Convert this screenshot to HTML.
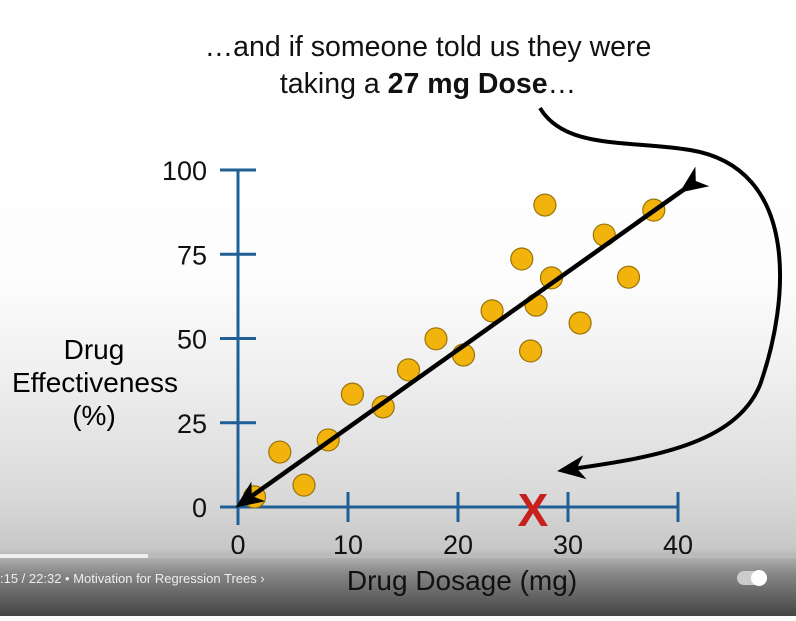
<!DOCTYPE html>
<html><head><meta charset="utf-8"><style>
html,body{margin:0;padding:0;}
body{width:796px;height:616px;overflow:hidden;font-family:"Liberation Sans",sans-serif;}
</style></head><body>
<svg width="796" height="616" viewBox="0 0 796 616" id="chart">
<defs>
<linearGradient id="bg" x1="0" y1="0" x2="0" y2="1">
<stop offset="0" stop-color="#ffffff"/><stop offset="0.45" stop-color="#fdfdfd"/>
<stop offset="0.6" stop-color="#f0f0f0"/><stop offset="0.8" stop-color="#dadada"/><stop offset="0.89" stop-color="#c8c8c8"/>
<stop offset="0.93" stop-color="#888"/><stop offset="1" stop-color="#444"/>
</linearGradient>
<marker id="ah2" markerWidth="30" markerHeight="30" refX="20" refY="15" orient="auto" markerUnits="userSpaceOnUse" viewBox="0 0 30 30"><path d="M0,3 L28,15 L0,27 L8,15 z" fill="#000"/></marker>
</defs>
<rect width="796" height="616" fill="url(#bg)"/>
<text x="428" y="56" font-size="28.5" text-anchor="middle" fill="#111">…and if someone told us they were</text>
<text x="428" y="93" font-size="28.5" text-anchor="middle" fill="#111">taking a <tspan font-weight="bold">27 mg Dose</tspan>…</text>
<path d="M540,108 C565,150 630,140 690,150 C800,168 790,300 760,385 C735,445 650,458 565,470" fill="none" stroke="#000" stroke-width="4" marker-end="url(#ah2)"/>
<g id="axes" stroke="#1f5f96" stroke-width="3" fill="none"></g>
<g id="ticklabels" font-size="27" fill="#111"></g>
<text x="94" y="359" font-size="28" text-anchor="middle">Drug</text>
<text x="95" y="392" font-size="28" text-anchor="middle">Effectiveness</text>
<text x="94" y="425" font-size="28" text-anchor="middle">(%)</text>
<text x="462" y="590" font-size="28" text-anchor="middle" fill="#111">Drug Dosage (mg)</text>
<g id="points"></g>
<line x1="686" y1="188" x2="242" y2="503" stroke="#000" stroke-width="4.5" marker-end="url(#ah2)" marker-start="url(#ah2)"/>
<text x="533" y="526" font-size="46" font-weight="bold" fill="#c8201c" text-anchor="middle">X</text>
<rect x="0" y="554" width="796" height="4" fill="#bbb"/>
<rect x="0" y="554" width="148" height="4" fill="#eee"/>
<text x="0" y="583" font-size="13" fill="#eee">:15 / 22:32  •  Motivation for Regression Trees  ›</text>
<rect x="737" y="571" width="30" height="14" rx="7" fill="#ccc"/>
<circle cx="759" cy="578" r="8" fill="#fff"/>
</svg>
<script>
const xTicks=[0,10,20,30,40];
const yTicks=[0,25,50,75,100];
const doses=[1.5,3.8,6,8.2,10.4,13.2,15.5,18,20.5,23.1,25.8,27.1,26.6,27.9,28.5,31.1,33.3,35.5,37.8];
const effect=[3,16.3,6.5,19.9,33.5,29.7,40.7,49.9,45.1,58.2,73.6,59.9,46.3,89.6,68,54.6,80.7,68.2,88.1];
const NS="http://www.w3.org/2000/svg";
const xs=v=>238+v*11, ys=v=>507-v*3.37;
function mk(t,a,p){const e=document.createElementNS(NS,t);for(const k in a)e.setAttribute(k,a[k]);p.appendChild(e);return e;}
const ax=document.getElementById('axes'),tl=document.getElementById('ticklabels'),pts=document.getElementById('points');
let l=mk('line',{x1:xs(0),y1:ys(0),x2:xs(40),y2:ys(0)},ax);


l=mk('line',{x1:xs(0),y1:ys(0)+18,x2:xs(0),y2:ys(100)},ax);


xTicks.forEach(v=>{const t=mk('line',{x1:xs(v),y1:ys(0)-15,x2:xs(v),y2:ys(0)+15},ax);


const s=mk('text',{x:xs(v),y:554,'text-anchor':'middle'},tl);s.textContent=v;

});
yTicks.forEach(v=>{const t=mk('line',{x1:xs(0)-18,y1:ys(v),x2:xs(0)+18,y2:ys(v)},ax);


const s=mk('text',{x:207,y:ys(v)+10,'text-anchor':'end'},tl);s.textContent=v;

});
doses.forEach((d,i)=>{const c=mk('circle',{cx:xs(d),cy:ys(effect[i]),r:11,fill:'#f2b40c',stroke:'#9a7408','stroke-width':1.2},pts);

});
</script>
</body></html>
